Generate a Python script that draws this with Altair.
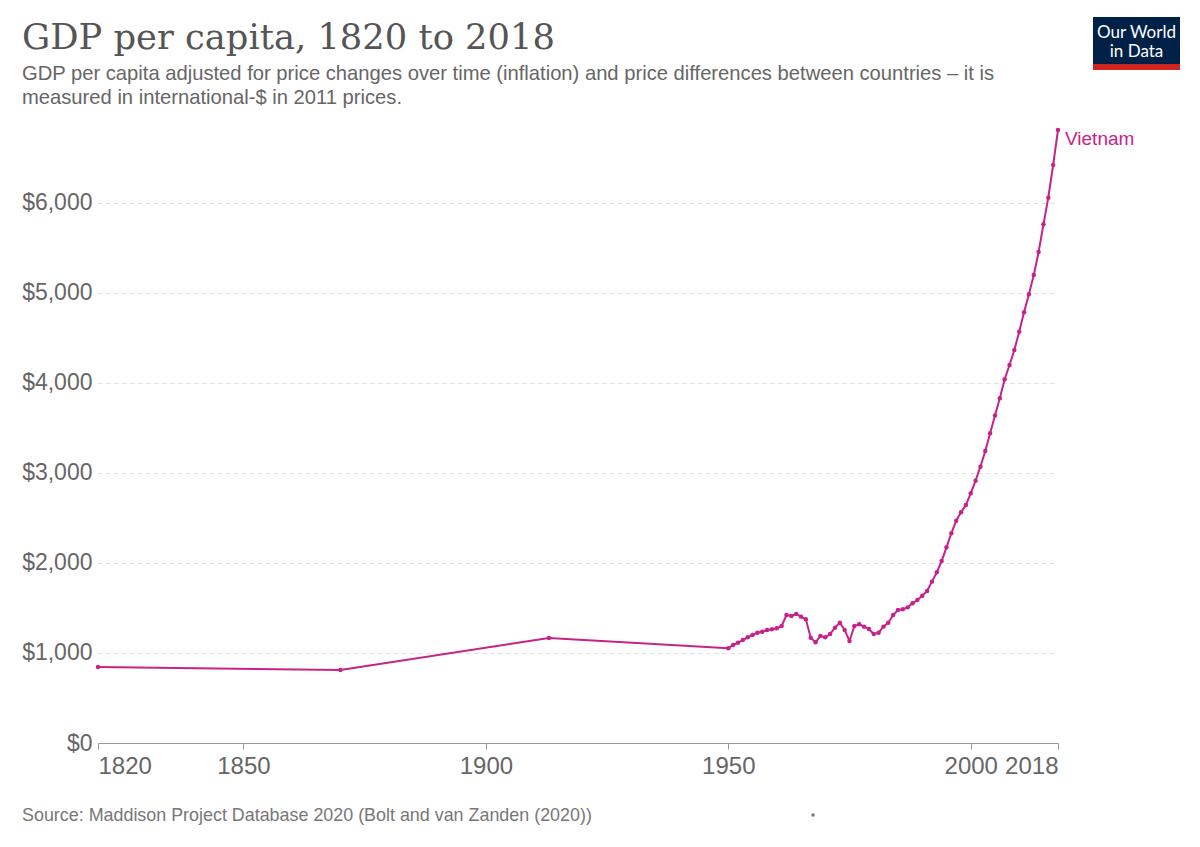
import altair as alt
import pandas as pd

years = [1820, 1870, 1913] + list(range(1950, 2019))
gdp = [844, 811, 1167,
       1052, 1089, 1115, 1144, 1174, 1200, 1226, 1237, 1256, 1263,
       1274, 1300, 1422, 1411, 1433, 1404, 1374, 1170, 1119, 1189,
       1174, 1211, 1281, 1337, 1256, 1133, 1300, 1319, 1293, 1267,
       1211, 1226, 1293, 1337, 1422, 1478, 1485, 1507, 1552, 1589,
       1637, 1689, 1793, 1896, 2022, 2174, 2330, 2470, 2563, 2644,
       2774, 2915, 3070, 3244, 3441, 3640, 3830, 4041, 4200, 4367,
       4570, 4785, 4985, 5200, 5456, 5763, 6059, 6422, 6811]
country = "Vietnam"
x_ticks = [1820, 1850, 1900, 1950, 2000, 2018]
y_ticks = [0, 1000, 2000, 3000, 4000, 5000, 6000]

title_text = "GDP per capita, 1820 to 2018"
subtitle_lines = [
    "GDP per capita adjusted for price changes over time (inflation) and price differences between countries \u2013 it is",
    "measured in international-$ in 2011 prices.",
]
source_text = "Source: Maddison Project Database 2020 (Bolt and van Zanden (2020))"

COLOR = "#c8228a"
FONT = "Liberation Sans"

df = pd.DataFrame({"year": years, "gdp": gdp, "country": country})
last = df.tail(1)

x_enc = alt.X("year:Q", scale=alt.Scale(domain=[1820, 2018], nice=False, zero=False),
              axis=alt.Axis(values=x_ticks, format="d", title=None, grid=False,
                            labelFont=FONT, labelFontSize=24, labelColor="#666",
                            domainColor="#999", tickColor="#999", tickSize=6,
                            labelPadding=5, labelFlush=True))
y_enc = alt.Y("gdp:Q", scale=alt.Scale(domain=[0, 6811], nice=False),
              axis=alt.Axis(values=y_ticks, format="$,.0f", title=None, domain=False,
                            ticks=False, labelFont=FONT, labelFontSize=23,
                            labelColor="#666", labelPadding=6, gridColor="#ddd",
                            gridDash=[4, 4], gridWidth=1))

base = alt.Chart(df)
line = base.mark_line(color=COLOR, strokeWidth=2).encode(x=x_enc, y=y_enc)
pts = base.mark_circle(color=COLOR, size=20, opacity=1).encode(x="year:Q", y="gdp:Q")
lab = alt.Chart(last).mark_text(color=COLOR, font=FONT, fontSize=19, align="left",
                                baseline="middle", dx=7, dy=9).encode(
    x="year:Q", y="gdp:Q", text="country:N")

one = pd.DataFrame({"k": [0]})


def txt(t, x, y, size, color, font=FONT, align="left", weight="normal"):
    return alt.Chart(pd.DataFrame({"t": [t]})).mark_text(
        font=font, fontSize=size, color=color, align=align, baseline="alphabetic",
        fontWeight=weight).encode(text="t:N", x=alt.value(x), y=alt.value(y))


title = txt(title_text, -76, -81, 35.3, "#555", font="DejaVu Serif")
sub1 = txt(subtitle_lines[0], -76, -50, 20.2, "#666")
sub2 = txt(subtitle_lines[1], -76, -26, 20.2, "#666")
source = txt(source_text, -76, 691, 17.9, "#777")

logo_bg = alt.Chart(one).mark_rect(color="#002147").encode(
    x=alt.value(995), x2=alt.value(1082), y=alt.value(-113), y2=alt.value(-60))
logo_red = alt.Chart(one).mark_rect(color="#ce261e").encode(
    x=alt.value(995), x2=alt.value(1082), y=alt.value(-66), y2=alt.value(-60))
logo_t1 = txt("Our World", 1038.5, -92, 17, "white", font="Lato", align="center")
logo_t2 = txt("in Data", 1038.5, -73, 17, "white", font="Lato", align="center")
dot = alt.Chart(one).mark_circle(color="#777", size=12, opacity=1).encode(
    x=alt.value(715), y=alt.value(685))

chart = alt.layer(line, pts, lab, title, sub1, sub2, source,
                  logo_bg, logo_red, logo_t1, logo_t2, dot).properties(
    width=960, height=613,
    autosize=alt.AutoSizeParams(type="none"),
    padding={"left": 90, "top": 122, "right": 134, "bottom": 90},
    background="white",
).configure_view(strokeWidth=0, stroke=None)

chart.save("out.html", embed_options={"renderer": "svg", "actions": False})
